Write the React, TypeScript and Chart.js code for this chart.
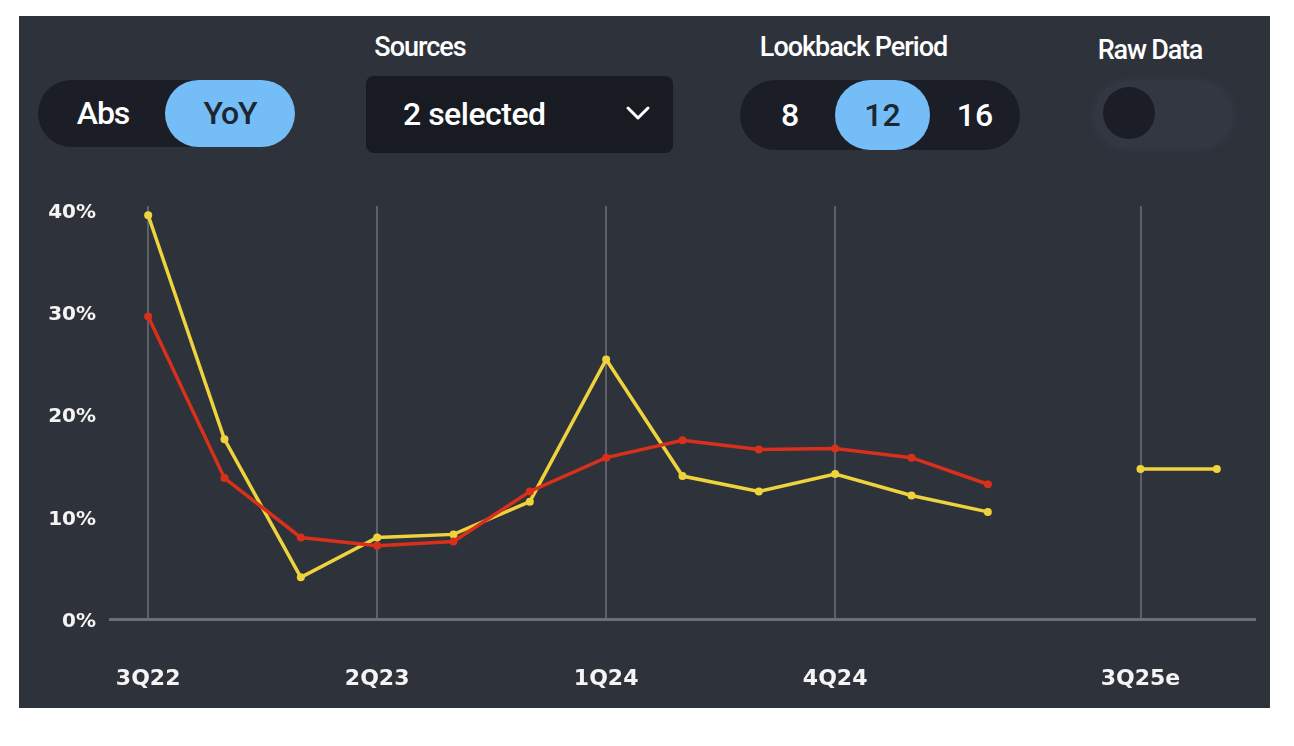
import React, { useEffect, useRef } from "react";
import { Chart, registerables } from "chart.js";

Chart.register(...registerables);

const quarters = ["3Q22", "4Q22", "1Q23", "2Q23", "3Q23", "4Q23", "1Q24", "2Q24", "3Q24", "4Q24", "1Q25", "2Q25", "", "3Q25e", "4Q25e"];
const shownTicks = ["3Q22", "2Q23", "1Q24", "4Q24", "3Q25e"];
const yellowSeries = [39.5, 17.6, 4.1, 8.0, 8.3, 11.5, 25.4, 14.0, 12.5, 14.2, 12.1, 10.5, null, 14.7, 14.7];
const redSeries = [29.6, 13.8, 8.0, 7.2, 7.6, 12.5, 15.8, 17.5, 16.6, 16.7, 15.8, 13.2, null, null, null];
const yTicks = [0, 10, 20, 30, 40];

const PANEL_BG = "#2e323b";
const PILL_BG = "#1b1e26";
const BLUE = "#74bdf6";
const YELLOW = "#efd33c";
const RED = "#d8301a";

const labelFont = "Roboto, 'Noto Sans', sans-serif";

function ChartCanvas() {
  const ref = useRef<HTMLCanvasElement | null>(null);
  useEffect(() => {
    if (!ref.current) return;
    const xFont = { family: "'DejaVu Sans', sans-serif", weight: "bold" as const, size: 22 };
    const yFont = { family: "'DejaVu Sans', sans-serif", weight: "bold" as const, size: 20 };
    const chart = new Chart(ref.current, {
      type: "line",
      data: {
        labels: quarters,
        datasets: [
          {
            label: "Source B",
            data: redSeries,
            borderColor: RED,
            backgroundColor: RED,
            pointBackgroundColor: RED,
            pointBorderColor: RED,
            borderWidth: 3.5,
            pointRadius: 4,
            pointBorderWidth: 0,
            tension: 0,
            spanGaps: false,
          },
          {
            label: "Source A",
            data: yellowSeries,
            borderColor: YELLOW,
            backgroundColor: YELLOW,
            pointBackgroundColor: YELLOW,
            pointBorderColor: YELLOW,
            borderWidth: 3.5,
            pointRadius: 4,
            pointBorderWidth: 0,
            tension: 0,
            spanGaps: false,
          },
        ],
      },
      options: {
        animation: false,
        responsive: false,
        maintainAspectRatio: false,
        layout: { padding: { top: 23, right: 15, left: 0, bottom: 0 } },
        plugins: { legend: { display: false }, tooltip: { enabled: false }, title: { display: false } },
        scales: {
          x: {
            type: "category",
            offset: true,
            grid: {
              offset: false,
              drawTicks: false,
              lineWidth: 2,
              color: (ctx: any) => (shownTicks.includes(quarters[ctx.index]) ? "#5c6069" : "rgba(0,0,0,0)"),
            },
            border: { display: true, color: "#6a6e76", width: 3 },
            ticks: {
              autoSkip: false,
              maxRotation: 0,
              minRotation: 0,
              padding: 47,
              color: "#f4f4f4",
              font: xFont,
              callback: (_v: any, i: number) => (shownTicks.includes(quarters[i]) ? quarters[i] : ""),
            },
            afterFit: (s: any) => {
              s.height = 88.7;
            },
          },
          y: {
            min: 0,
            max: 40.4,
            afterBuildTicks: (s: any) => {
              s.ticks = yTicks.map((v) => ({ value: v }));
            },
            grid: { display: false, drawTicks: false },
            border: { display: false },
            ticks: {
              padding: 14,
              labelOffset: 2.5,
              color: "#f4f4f4",
              font: yFont,
              callback: (v: any) => `${v}%`,
            },
            afterFit: (s: any) => {
              s.width = 91;
            },
          },
        },
      },
    });
    return () => chart.destroy();
  }, []);
  return <canvas ref={ref} width={1251} height={528} style={{ position: "absolute", left: 0, top: 164, width: 1251, height: 528 }} />;
}

export default function App() {
  const txt: React.CSSProperties = { position: "absolute", fontFamily: labelFont, color: "#fff", whiteSpace: "nowrap" };
  return (
    <div style={{ position: "fixed", left: 0, top: 0, width: 1294, height: 746, background: "#ffffff" }}>
      <div style={{ position: "absolute", left: 19, top: 16, width: 1251, height: 692, background: PANEL_BG, overflow: "hidden" }}>
        {/* Abs / YoY toggle (panel coords = page - (19,16)) */}
        <div style={{ position: "absolute", left: 19, top: 64, width: 257, height: 67, borderRadius: 34, background: PILL_BG }} />
        <div style={{ position: "absolute", left: 146, top: 64, width: 130, height: 67, borderRadius: 34, background: BLUE }} />
        <div style={{ ...txt, left: 19, top: 64, width: 130, height: 67, lineHeight: "67px", textAlign: "center", fontSize: 32, fontWeight: 500, letterSpacing: -1 }}>Abs</div>
        <div style={{ ...txt, left: 146, top: 64, width: 130, height: 67, lineHeight: "67px", textAlign: "center", fontSize: 32, fontWeight: 500, color: "#1d2631", letterSpacing: -1 }}>YoY</div>

        {/* Sources */}
        <div style={{ ...txt, left: 347, top: 14, width: 108, textAlign: "center", fontSize: 27, fontWeight: 500, letterSpacing: -1, lineHeight: "34px" }}>Sources</div>
        <div style={{ position: "absolute", left: 347, top: 60, width: 307, height: 77, borderRadius: 8, background: "#181b22" }} />
        <div style={{ ...txt, left: 384, top: 60, height: 77, lineHeight: "77px", fontSize: 32, fontWeight: 500, letterSpacing: -0.5 }}>2 selected</div>
        <svg style={{ position: "absolute", left: 606, top: 88 }} width={26} height={20}>
          <polyline points="3,4 13,14 23,4" fill="none" stroke="#ffffff" strokeWidth={3} strokeLinecap="round" strokeLinejoin="round" />
        </svg>

        {/* Lookback Period */}
        <div style={{ ...txt, left: 722, top: 14, width: 225, textAlign: "center", fontSize: 27, fontWeight: 500, letterSpacing: -1, lineHeight: "34px" }}>Lookback Period</div>
        <div style={{ position: "absolute", left: 721, top: 64, width: 280, height: 70, borderRadius: 35, background: PILL_BG }} />
        <div style={{ position: "absolute", left: 816, top: 64, width: 95, height: 70, borderRadius: 35, background: BLUE }} />
        <div style={{ ...txt, left: 741, top: 64, width: 60, height: 70, lineHeight: "70px", textAlign: "center", fontSize: 32, fontWeight: 500 }}>8</div>
        <div style={{ ...txt, left: 816, top: 64, width: 95, height: 70, lineHeight: "70px", textAlign: "center", fontSize: 32, fontWeight: 500, color: "#1d2631" }}>12</div>
        <div style={{ ...txt, left: 926, top: 64, width: 60, height: 70, lineHeight: "70px", textAlign: "center", fontSize: 32, fontWeight: 500 }}>16</div>

        {/* Raw Data */}
        <div style={{ ...txt, left: 1070, top: 17, width: 122, textAlign: "center", fontSize: 27, fontWeight: 500, letterSpacing: -1.2, lineHeight: "34px" }}>Raw Data</div>
        <div style={{ position: "absolute", left: 1075, top: 65, width: 139, height: 68, borderRadius: 34, background: "#333741", boxShadow: "0 0 6px 2px #333741" }} />
        <div style={{ position: "absolute", left: 1084, top: 71, width: 52, height: 52, borderRadius: 26, background: "#1b1e27" }} />

        <ChartCanvas />
      </div>
    </div>
  );
}
